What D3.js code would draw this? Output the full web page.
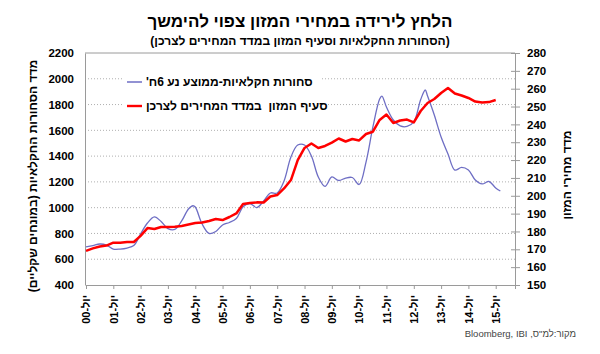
<!DOCTYPE html>
<html><head><meta charset="utf-8">
<script src="https://cdn.jsdelivr.net/npm/d3@7"></script>
<style>
body{margin:0;background:#fff;}
text{font-family:"Liberation Sans",Arial,sans-serif;}
</style></head>
<body><svg id="c" width="600" height="354"></svg>
<script>
// ---- data ----
const redDates = ["2000-07","2000-10","2001-01","2001-04","2001-07","2001-10","2002-01","2002-04","2002-07","2002-10",
"2003-01","2003-04","2003-07","2003-10","2004-01","2004-04","2004-07","2004-10","2005-01","2005-04",
"2005-07","2005-10","2006-01","2006-04","2006-07","2006-10","2007-01","2007-04","2007-07","2007-10",
"2008-01","2008-04","2008-07","2008-10","2009-01","2009-04","2009-07","2009-10","2010-01","2010-04",
"2010-07","2010-10","2011-01","2011-04","2011-07","2011-10","2012-01","2012-04","2012-07","2012-10",
"2013-01","2013-04","2013-07","2013-10","2014-01","2014-04","2014-07","2014-10","2015-01","2015-04","2015-07"];
const foodCPI = [169.1,170.5,171.6,172.1,173.7,173.7,174.1,174.1,177.5,181.9,
181.4,182.5,182.5,182.7,183.1,183.9,184.7,185.0,185.9,187.0,
186.4,188.1,190.1,195.4,195.9,196.3,196.2,199.6,200.4,204.1,
208.8,220.0,226.8,229.3,226.8,227.9,229.8,232.1,230.4,231.8,
231.0,234.6,235.9,242.5,245.5,240.8,242.2,242.7,241.1,247.5,
252.0,254.2,257.6,260.4,257.3,256.2,254.8,252.8,252.3,252.5,253.7];
const blueDates = ["2000-07","2000-10","2001-01","2001-04","2001-07","2001-10","2002-01","2002-04","2002-07","2002-10",
"2003-01","2003-04","2003-07","2003-10","2004-01","2004-04","2004-06","2004-07","2004-10","2005-01","2005-04",
"2005-07","2005-10","2006-01","2006-04","2006-07","2006-10","2007-01","2007-04","2007-07","2007-10",
"2008-01","2008-04","2008-07","2008-10","2009-01","2009-04","2009-07","2009-10","2010-01","2010-04",
"2010-07","2010-10","2011-01","2011-04","2011-05","2011-07","2011-10","2012-01","2012-04","2012-07","2012-10","2012-12",
"2013-01","2013-04","2013-07","2013-10","2014-01","2014-04","2014-07","2014-10","2015-01","2015-04","2015-07","2015-09"];
const agriCommodities = [695,706,718,710,679,679,687,706,796,881,
928,893,838,831,897,990,1015,1005,873,800,815,
866,885,916,1007,1032,1001,1052,1114,1114,1207,
1393,1486,1486,1401,1238,1165,1238,1211,1230,1234,
1180,1354,1626,1843,1866,1781,1680,1634,1630,1665,1839,1913,
1866,1719,1548,1416,1292,1312,1292,1215,1184,1203,1153,1129];
const leftTicks = [400,600,800,1000,1200,1400,1600,1800,2000,2200];
const rightTicks = [150,160,170,180,190,200,210,220,230,240,250,260,270,280];
const xTickYears = ["00","01","02","03","04","05","06","07","08","09","10","11","12","13","14","15"];
const title = "הלחץ לירידה במחירי המזון צפוי להימשך";
const subtitle = "(הסחורות החקלאיות וסעיף המזון במדד המחירים לצרכן)";
const leftTitle = "מדד הסחורות החקלאיות (במונחים שקליים)";
const rightTitle = "מדד מחירי המזון";
const legendLabels = ["סחורות חקלאיות-ממוצע נע 6ח'", "סעיף המזון  במדד המחירים לצרכן"];
const source = "מקור:למ\"ס, Bloomberg, IBI";

// ---- layout ----
const L = 85, R = 515, T = 53, B = 285;
const svg = d3.select("#c");
const parse = d3.timeParse("%Y-%m");
const x = d3.scaleTime().domain([new Date(2000,6,1), new Date(2016,2,15)]).range([L+1, R]);
const yL = d3.scaleLinear().domain([400,2200]).range([B,T]);
const yR = d3.scaleLinear().domain([150,280]).range([B,T]);

// gridlines
svg.append("g").selectAll("line").data(leftTicks.filter(v=>v>400 && v<2200)).join("line")
  .attr("x1",L).attr("x2",R).attr("y1",d=>yL(d)).attr("y2",d=>yL(d))
  .attr("stroke","#9a9a9a").attr("stroke-width",0.8).attr("stroke-dasharray","1,2");

// frame top
svg.append("line").attr("x1",L).attr("x2",R).attr("y1",T).attr("y2",T).attr("stroke","#9a9a9a");

// left axis
const gL = svg.append("g").attr("transform",`translate(${L},0)`)
  .call(d3.axisLeft(yL).tickValues(leftTicks).tickSize(0).tickPadding(11).tickFormat(d3.format("d")));
gL.select(".domain").attr("stroke","#9a9a9a");
gL.selectAll("text").attr("font-size",11.5).attr("font-weight","bold").attr("fill","#000").attr("font-family","Liberation Sans, Arial");

// right axis
const gR = svg.append("g").attr("transform",`translate(${R},0)`)
  .call(d3.axisRight(yR).tickValues(rightTicks).tickSize(5).tickPadding(7));
gR.select(".domain").attr("stroke","#9a9a9a");
gR.selectAll(".tick line").attr("x1",-4).attr("stroke","#9a9a9a");
gR.selectAll("text").attr("font-size",11.5).attr("font-weight","bold").attr("fill","#000").attr("font-family","Liberation Sans, Arial");

// bottom axis
const xTickDates = xTickYears.map(y=>new Date(2000+ +y,6,1));
const gB = svg.append("g").attr("transform",`translate(0,${B})`)
  .call(d3.axisBottom(x).tickValues(xTickDates).tickSize(4).tickFormat((d,i)=>"יול-"+xTickYears[i]));
gB.select(".domain").attr("stroke","#9a9a9a");
gB.selectAll(".tick line").attr("stroke","#9a9a9a");
gB.selectAll("text").attr("font-size",11).attr("font-weight","bold").attr("fill","#000")
  .attr("font-family","Liberation Sans, Arial")
  .attr("direction","rtl").attr("text-anchor","start")
  .attr("transform","rotate(-90)").attr("x",-10).attr("y",0).attr("dy","0.35em");

// legend background (covers gridlines)
svg.append("rect").attr("x",124).attr("y",68).attr("width",196).attr("height",48).attr("fill","#fff");

// lines
const blueData = blueDates.map((d,i)=>({d:parse(d),v:agriCommodities[i]}));
const redData = redDates.map((d,i)=>({d:parse(d),v:foodCPI[i]}));
svg.append("path").datum(blueData).attr("fill","none").attr("stroke","#6e6ec4").attr("stroke-width",1.3)
  .attr("d",d3.line().x(d=>x(d.d)).y(d=>yL(d.v)).curve(d3.curveCatmullRom.alpha(0.5)));
svg.append("path").datum(redData).attr("fill","none").attr("stroke","#ff0000").attr("stroke-width",2.5)
  .attr("stroke-linejoin","round")
  .attr("d",d3.line().x(d=>x(d.d)).y(d=>yR(d.v)));

// legend
const lg = [{c:"#6e6ec4",w:1.5,y:82},{c:"#ff0000",w:2.4,y:106}];
lg.forEach((o,i)=>{
  svg.append("line").attr("x1",127).attr("x2",142).attr("y1",o.y).attr("y2",o.y).attr("stroke",o.c).attr("stroke-width",o.w);
  svg.append("text").attr("x",146).attr("y",o.y).attr("dy","0.35em").attr("direction","rtl").attr("text-anchor","end")
    .style("white-space","pre")
    .attr("font-size",12).attr("font-weight","bold").text(legendLabels[i]);
});

// titles
svg.append("text").attr("x",300).attr("y",27).attr("text-anchor","middle").attr("direction","rtl")
  .attr("font-size",17).attr("font-weight","bold").text(title);
svg.append("text").attr("x",300).attr("y",45).attr("text-anchor","middle").attr("direction","rtl")
  .attr("font-size",12).attr("font-weight","bold").text(subtitle);
svg.append("text").attr("transform","translate(33,176) rotate(-90)").attr("text-anchor","middle").attr("direction","rtl")
  .attr("dy","0.35em").attr("font-size",12).attr("font-weight","bold").text(leftTitle);
svg.append("text").attr("transform","translate(567,175) rotate(-90)").attr("text-anchor","middle").attr("direction","rtl")
  .attr("dy","0.35em").attr("font-size",12).attr("font-weight","bold").text(rightTitle);
svg.append("text").attr("x",576).attr("y",337).attr("direction","rtl").attr("text-anchor","start")
  .attr("font-size",9.5).attr("fill","#444").text(source);
</script></body></html>
